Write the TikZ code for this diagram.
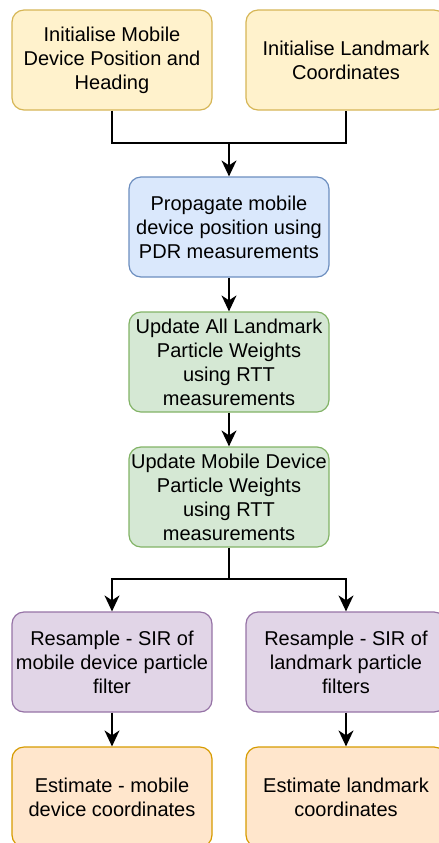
\documentclass[tikz,border=0pt]{standalone}
\usepackage{fontspec}
\setmainfont{Liberation Sans}
\usetikzlibrary{arrows.meta}

\definecolor{yellowfill}{HTML}{FFF2CC}
\definecolor{yellowline}{HTML}{D6B656}
\definecolor{bluefill}{HTML}{DAE8FC}
\definecolor{blueline}{HTML}{6C8EBF}
\definecolor{greenfill}{HTML}{D5E8D4}
\definecolor{greenline}{HTML}{82B366}
\definecolor{purplefill}{HTML}{E1D5E7}
\definecolor{purpleline}{HTML}{9673A6}
\definecolor{orangefill}{HTML}{FFE6CC}
\definecolor{orangeline}{HTML}{D79B00}

\tikzset{
    box/.style={rectangle, rounded corners=6pt, line width=0.6pt,
        minimum width=100pt, minimum height=50pt, inner xsep=1pt,
        align=center, font=\fontsize{10}{12}\selectfont},
    initbox/.style={box, draw=yellowline, fill=yellowfill},
    propbox/.style={box, draw=blueline, fill=bluefill},
    updbox/.style={box, draw=greenline, fill=greenfill},
    resbox/.style={box, draw=purpleline, fill=purplefill},
    estbox/.style={box, draw=orangeline, fill=orangefill},
    link/.style={line width=0.7pt, black},
    arrow/.style={link, -{Stealth[length=8pt, width=7.5pt, inset=2.5pt]}}
}

\begin{document}
\begin{tikzpicture}[x=0.5pt, y=-0.5pt]
    \useasboundingbox (0,0) rectangle (439,843);
    \node [initbox] (init1) at (112,60) {Initialise Mobile\\Device Position and\\Heading};
    \node [initbox] (init2) at (346,60) {Initialise Landmark\\Coordinates};
    \node [propbox] (prop) at (229,227) {Propagate mobile\\device position using\\PDR measurements};
    \node [updbox] (upd1) at (229,362) {Update All Landmark\\Particle Weights\\using RTT\\measurements};
    \node [updbox] (upd2) at (229,497) {Update Mobile Device\\Particle Weights\\using RTT\\measurements};
    \node [resbox] (res1) at (112,662) {Resample - SIR of\\mobile device particle\\filter};
    \node [resbox] (res2) at (346,662) {Resample - SIR of\\landmark particle\\filters};
    \node [estbox] (est1) at (112,797) {Estimate - mobile\\device coordinates};
    \node [estbox] (est2) at (346,797) {Estimate landmark\\coordinates};
    \coordinate (join) at (229,143);
    \coordinate (fork) at (229,579);
    \draw [link] (init1.south) |- (join) -| (init2.south);
    \draw [arrow] (join) -- (prop.north);
    \draw [arrow] (prop) -- (upd1);
    \draw [arrow] (upd1) -- (upd2);
    \draw [link] (upd2.south) -- (fork);
    \draw [arrow] (fork) -| (res1.north);
    \draw [arrow] (fork) -| (res2.north);
    \draw [arrow] (res1) -- (est1);
    \draw [arrow] (res2) -- (est2);
\end{tikzpicture}
\end{document}
